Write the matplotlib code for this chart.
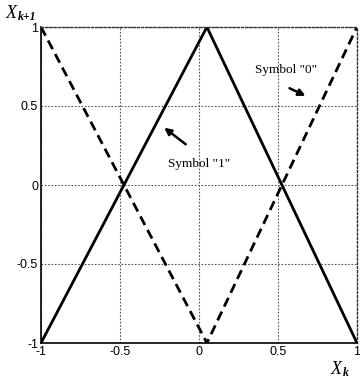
import matplotlib
matplotlib.use("Agg")
import matplotlib.pyplot as plt

sym1_x = [-1, 0.05, 1]
sym1_y = [-1, 1, -1]
sym0_x = [-1, 0.05, 1]
sym0_y = [1, -1, 1]
ticks = [-1, -0.5, 0, 0.5, 1]
tick_labels = ["-1", "-0.5", "0", "0.5", "1"]

fig = plt.figure(figsize=(3.6, 3.83), dpi=100)
ax = fig.add_axes([41/360, 40/383, 316/360, 316/383])
ax.plot(sym1_x, sym1_y, color="black", lw=2, solid_joinstyle="miter")
ax.plot(sym0_x, sym0_y, color="black", lw=2, ls=(0, (3.5, 2)))
ax.set_xlim(-1, 1)
ax.set_ylim(-1, 1)
ax.set_xticks(ticks)
ax.set_xticklabels(tick_labels)
ax.set_yticks(ticks)
ax.set_yticklabels(tick_labels)
ax.grid(True, ls=(0, (1.5, 1.5)), color="#555555", lw=0.8)
ax.tick_params(length=0, labelsize=9, pad=2)
for lab in ax.get_xticklabels() + ax.get_yticklabels():
    lab.set_family("Liberation Sans")
for s in ["top", "right"]:
    ax.spines[s].set_linestyle((0, (1.5, 1.5)))
    ax.spines[s].set_color("#333333")
    ax.spines[s].set_linewidth(1)
for s in ["left", "bottom"]:
    ax.spines[s].set_linewidth(1.2)

fig.text(6/360, 1 - 14/383, "X", family="Liberation Serif", fontsize=13, style="italic", va="center")
fig.text(17.5/360, 1 - 17/383, "k+1", family="Liberation Serif", fontsize=8.5, style="italic", weight="bold", va="center")
fig.text(331/360, 1 - 370/383, "X", family="Liberation Serif", fontsize=13, style="italic", va="center")
fig.text(342.5/360, 1 - 373/383, "k", family="Liberation Serif", fontsize=8.5, style="italic", weight="bold", va="center")

ax.text(0.55, 0.73, 'Symbol "0"', fontsize=9.5, family="Liberation Serif", ha="center", va="center")
ax.annotate("", xy=(0.69, 0.557), xytext=(0.557, 0.62),
            arrowprops=dict(arrowstyle="-|>", color="black", lw=1.8, mutation_scale=10))
ax.text(0.0, 0.133, 'Symbol "1"', fontsize=9.5, family="Liberation Serif", ha="center", va="center")
ax.annotate("", xy=(-0.234, 0.373), xytext=(-0.07, 0.247),
            arrowprops=dict(arrowstyle="-|>", color="black", lw=1.8, mutation_scale=10))

fig.savefig("out.png", dpi=100)
